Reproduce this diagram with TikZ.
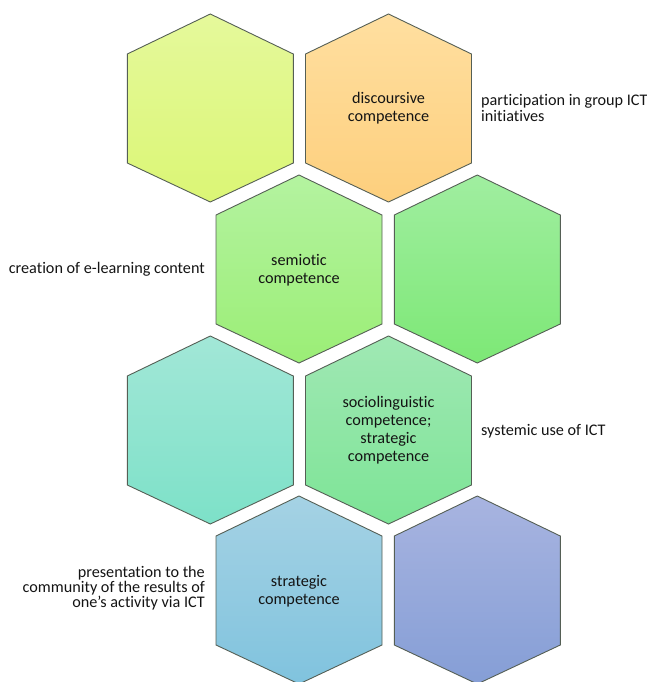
\documentclass[tikz,border=0pt]{standalone}
\usepackage{fontspec}
\setmainfont[Ligatures=NoCommon]{Carlito}
\definecolor{edge}{RGB}{85,95,85}
\definecolor{txt}{RGB}{20,20,20}
\definecolor{aT}{RGB}{229,249,155}\definecolor{aB}{RGB}{219,246,117}
\definecolor{bT}{RGB}{255,223,160}\definecolor{bB}{RGB}{253,207,125}
\definecolor{cT}{RGB}{180,243,160}\definecolor{cB}{RGB}{155,238,118}
\definecolor{dT}{RGB}{160,238,160}\definecolor{dB}{RGB}{125,232,118}
\definecolor{eT}{RGB}{162,231,215}\definecolor{eB}{RGB}{125,225,200}
\definecolor{fT}{RGB}{160,232,180}\definecolor{fB}{RGB}{125,228,150}
\definecolor{gT}{RGB}{165,210,228}\definecolor{gB}{RGB}{128,195,222}
\definecolor{hT}{RGB}{168,180,224}\definecolor{hB}{RGB}{133,158,214}
\begin{document}
\begin{tikzpicture}[x=1pt,y=1pt,
  hexline/.style={draw=edge,line width=0.9pt,line join=miter},
  pics/hexa/.style 2 args={code={
    \path[hexline,top color=#1,bottom color=#2]
      (0,94) -- (83,54) -- (83,-55) -- (0,-94) -- (-83,-55) -- (-83,54) -- cycle;}},
  intext/.style={font=\fontsize{16.2}{18}\selectfont,text=txt,align=center,inner sep=0pt},
  outR/.style={font=\fontsize{16.2}{15.5}\selectfont,text=txt,align=left,anchor=west,inner sep=0pt},
  outL/.style={font=\fontsize{16.2}{15}\selectfont,text=txt,align=right,anchor=east,inner sep=0pt}]
\useasboundingbox (0,0) rectangle (647,-682);
% row 1
\pic at (210.3,-108) {hexa={aT}{aB}};
\pic at (388.5,-108) {hexa={bT}{bB}};
% row 2
\pic at (299,-269) {hexa={cT}{cB}};
\pic at (477.3,-269) {hexa={dT}{dB}};
% row 3
\pic at (210.3,-430) {hexa={eT}{eB}};
\pic at (388.5,-430) {hexa={fT}{fB}};
% row 4
\pic at (299,-590) {hexa={gT}{gB}};
\pic at (477.3,-590) {hexa={hT}{hB}};
% texts
\node[intext] (disc) at (388.5,-108) {discoursive\\competence};
\node[intext] (semi) at (299,-270) {semiotic\\competence};
\node[intext] (soc) at (388.5,-430) {sociolinguistic\\competence;\\strategic\\competence};
\node[intext] (strat) at (299,-591) {strategic\\competence};
\node[outR] (part) at (481,-108) {participation in group ICT\\initiatives};
\node[outL] (crea) at (205,-269) {creation of e-learning content};
\node[outR] (sys) at (481,-431) {systemic use of ICT};
\node[outL] (pres) at (205,-588) {presentation to the\\community of the results of\\one’s activity via ICT};
\end{tikzpicture}
\end{document}
